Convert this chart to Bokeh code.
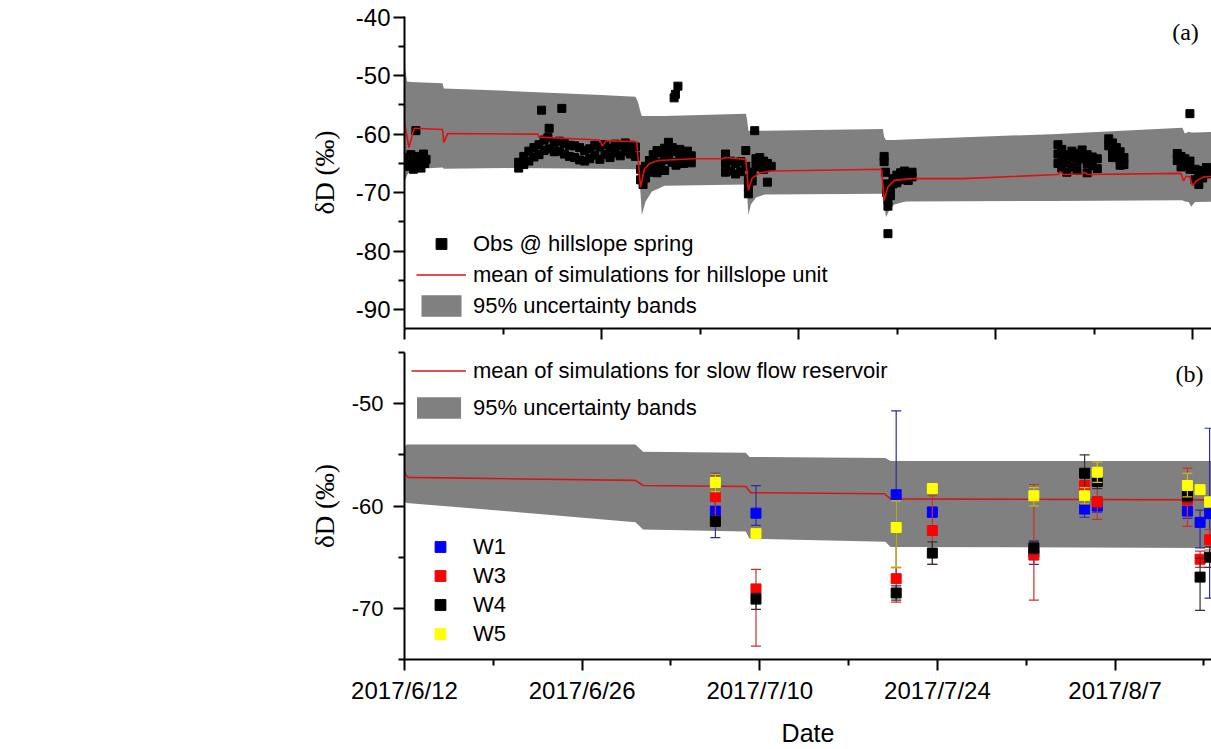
from bokeh.plotting import figure
from bokeh.models import Range1d, FixedTicker, Legend, LegendItem, Label, ColumnDataSource
from bokeh.layouts import column
from bokeh.embed import file_html
from bokeh.resources import INLINE

# ---------------- data ----------------
tick_labels = ["2017/6/12", "2017/6/26", "2017/7/10", "2017/7/24", "2017/8/7"]
tick_days = [0, 14, 28, 42, 56]
minor_tick_days = [7, 21, 35, 49, 63]
top_tick_step = 7.765  # days between ticks on the (a) panel axis
x_end_day = 63.6
y_ticks_a = [-90, -80, -70, -60, -50, -40]
y_minor_a = [-85, -75, -65, -55, -45]
y_ticks_b = [-70, -60, -50]
y_minor_b = [-75, -65, -55, -45]

# panel (a): 95% band of hillslope unit
band_a_days = [0.0, 0.2, 0.5, 3.0, 3.1, 8.0, 15.5, 18.2, 18.4, 18.6, 18.7, 19.0, 19.5, 20.5,
               26.9, 27.0, 27.1, 27.3, 27.7, 28.4, 37.7, 37.8, 37.95, 38.2, 38.6, 39.5, 51.0,
               61.3, 61.5, 61.8, 62.0, 62.3, 64.0]
band_a_hi = [-48.0, -51.0, -51.1, -51.3, -52.2, -52.6, -53.3, -53.6, -54.5, -56.2, -56.9, -56.9, -56.9, -56.9,
             -56.5, -57.5, -59.4, -59.4, -59.4, -59.4, -59.1, -60.5, -61.0, -61.0, -61.0, -60.9, -60.0,
             -58.9, -59.9, -59.6, -59.7, -59.7, -59.6]
band_a_lo = [-68.2, -67.0, -66.0, -65.7, -65.9, -65.8, -65.9, -66.0, -66.2, -70.0, -73.8, -71.5, -69.8, -68.8,
             -68.6, -70.0, -73.8, -72.0, -70.8, -70.3, -70.2, -72.0, -74.2, -73.0, -72.0, -71.5, -71.4,
             -71.3, -71.5, -71.6, -72.4, -71.6, -71.5]

# panel (a): mean of simulations
mean_a_days = [0.0, 0.35, 0.77, 3.0, 3.1, 3.4, 10.5, 10.6, 15.4, 15.6, 15.9, 18.3, 18.6, 18.9, 19.3,
               20.0, 22.8, 25.0, 25.3, 26.9, 27.1, 27.4, 28.0, 29.0, 37.6, 37.8, 38.1, 38.6, 40.0,
               44.0, 51.5, 51.7, 51.9, 53.4, 53.6, 53.8, 61.2, 61.4, 61.6, 61.9, 62.1, 62.4, 63.0, 64.0]
mean_a_vals = [-58.0, -62.3, -59.0, -59.2, -61.4, -59.9, -60.0, -60.5, -61.0, -62.0, -61.1, -61.3, -69.1, -66.0, -65.0,
               -64.5, -64.2, -64.2, -64.0, -64.3, -69.6, -67.5, -66.6, -66.3, -66.0, -71.3, -69.0, -67.9, -67.6,
               -67.6, -66.9, -66.4, -66.9, -66.8, -66.5, -66.9, -66.7, -68.0, -67.2, -67.3, -68.8, -68.0, -67.3, -67.2]

# panel (a): observations at hillslope spring
obs_days = [0.3, 0.4, 0.5, 0.6, 0.7, 0.8, 0.9, 1.0, 1.1, 1.2, 1.3, 1.4, 1.5, 1.6, 1.7,
            9.0, 9.0, 9.4, 9.4, 9.8, 9.8, 10.2, 10.2, 10.6, 10.6, 10.8, 11.0, 11.0, 11.3, 11.4, 11.4,
            11.8, 11.8, 12.2, 12.2, 12.4, 12.6, 12.6, 13.0, 13.0, 13.4, 13.4, 13.8, 13.8, 14.2, 14.2,
            14.6, 14.6, 15.0, 15.0, 15.4, 15.4, 15.8, 15.8, 16.2, 16.2, 16.6, 16.6, 17.0, 17.0, 17.4, 17.4,
            17.8, 17.8, 18.2, 18.2,
            18.6, 18.6, 18.8, 18.8, 19.0, 19.0, 19.3, 19.3, 19.6, 19.6, 19.9, 19.9, 19.9, 20.2, 20.2,
            20.5, 20.5, 20.5, 20.8, 20.8, 21.1, 21.1, 21.4, 21.4, 21.7, 21.7, 22.0, 22.0, 22.3, 22.3,
            22.6, 22.6, 21.55, 21.35, 21.25,
            25.3, 25.3, 25.3, 25.7, 25.7, 26.1, 26.1, 26.5, 26.5, 26.9, 26.9, 27.1, 27.1, 27.1, 27.4, 27.4,
            27.6, 27.7, 27.7, 28.0, 28.0, 28.3, 28.3, 28.6, 28.6, 28.9,
            37.8, 37.8, 37.9, 38.0, 38.0, 38.1, 38.1, 38.1, 38.3, 38.3, 38.5, 38.5, 38.8, 38.8, 39.1, 39.1,
            39.4, 39.4, 39.7, 39.7, 40.0, 40.0,
            51.5, 51.5, 51.5, 51.8, 51.8, 51.8, 52.2, 52.2, 52.2, 52.6, 52.6, 52.6, 53.0, 53.0, 53.0,
            53.4, 53.4, 53.8, 53.8, 53.8, 54.2, 54.2, 54.6, 54.6,
            55.5, 55.5, 55.8, 55.8, 55.8, 56.1, 56.1, 56.4, 56.4, 56.4, 56.7, 56.7,
            60.9, 60.9, 61.2, 61.2, 61.5, 61.5, 61.9, 61.9, 61.9, 62.3, 62.3, 62.6, 62.6, 62.9, 62.9, 63.2, 63.2]
obs_vals = [-64.0, -65.5, -63.5, -64.8, -66.0, -64.2, -59.4, -65.2, -63.8, -64.6, -65.8, -64.0, -63.4, -65.0, -64.3,
            -64.8, -65.8, -63.8, -65.2, -62.9, -64.6, -62.3, -63.9, -61.8, -63.5, -55.9, -61.0, -62.8, -60.6, -59.0, -62.5,
            -61.4, -63.0, -61.2, -62.9, -55.6, -61.6, -63.4, -61.9, -63.8, -62.0, -64.0, -62.3, -64.4, -62.8, -64.6,
            -62.5, -64.2, -61.9, -63.6, -62.2, -64.3, -61.8, -63.5, -62.4, -64.0, -61.7, -63.2, -62.0, -63.7, -61.5, -63.0,
            -61.9, -63.4, -62.2, -63.8,
            -66.0, -67.8, -68.6, -66.9, -67.5, -65.5, -64.5, -66.5, -63.5, -65.8, -62.8, -64.9, -66.6, -63.2, -65.4,
            -62.4, -64.4, -66.2, -61.4, -63.6, -62.3, -64.8, -63.0, -65.3, -62.6, -64.1, -63.4, -65.0, -62.9, -64.6,
            -63.7, -64.9, -51.8, -53.2, -53.8,
            -63.4, -65.0, -66.5, -64.6, -66.3, -65.0, -66.8, -64.7, -66.4, -62.8, -65.5, -69.0, -70.2, -67.6, -68.0, -66.5,
            -59.4, -65.4, -64.2, -64.0, -65.6, -64.6, -66.0, -68.2, -65.0, -65.5,
            -63.8, -64.7, -66.5, -68.5, -70.0, -72.3, -71.2, -77.0, -70.5, -69.3, -68.5, -67.6, -67.0, -68.3, -66.6, -67.8,
            -66.3, -67.4, -66.8, -67.9, -66.5, -67.3,
            -61.8, -63.4, -65.0, -62.6, -64.3, -65.8, -63.5, -64.9, -66.5, -62.9, -64.0, -65.6, -63.3, -64.7, -66.2,
            -62.7, -64.2, -63.5, -65.0, -66.6, -63.9, -65.4, -64.2, -65.9,
            -60.8, -62.0, -61.5, -62.8, -64.0, -62.3, -63.6, -63.0, -64.4, -65.3, -64.0, -65.2,
            -63.3, -64.5, -63.8, -65.6, -64.2, -65.2, -56.5, -64.6, -66.0, -66.0, -67.8, -67.0, -68.6, -66.2, -67.5, -65.7, -66.8]

# panel (b): slow flow reservoir
band_b_days = [0.0, 0.15, 9.0, 18.2, 18.8, 26.9, 27.2, 37.9, 38.3, 64.0]
band_b_hi = [-54.3, -54.0, -54.0, -54.0, -54.7, -54.8, -55.2, -55.3, -55.6, -55.6]
band_b_lo = [-59.5, -59.7, -60.6, -61.6, -62.3, -62.5, -63.2, -63.5, -64.0, -64.1]
mean_b_days = [0.0, 0.1, 0.3, 18.2, 18.8, 26.9, 27.3, 37.8, 38.3, 64.0]
mean_b_vals = [-56.6, -57.0, -57.2, -57.5, -58.0, -58.1, -58.7, -58.8, -59.3, -59.4]

# panel (b): wells -- value, lower and upper end of error bar
w_days = [24.5, 27.7, 38.75, 41.6, 49.6, 53.6, 54.6, 61.7, 62.7, 63.45]
w1_vals = [-60.5, -60.7, -58.9, -60.6, -64.5, -60.3, -60.0, -60.5, -61.6, -60.75]
w1_lo = [-63.1, -61.9, -67.0, -61.1, -65.7, -61.1, -60.6, -61.2, -64.1, -69.0]
w1_hi = [-56.8, -58.0, -50.7, -60.1, -63.4, -59.5, -59.1, -59.8, -60.4, -52.4]
w3_vals = [-59.1, -68.1, -67.1, -62.4, -64.8, -58.0, -59.6, -59.4, -65.2, -63.3]
w3_lo = [-61.0, -73.7, -69.4, -65.7, -69.2, -59.0, -61.3, -62.0, -66.0, -64.3]
w3_hi = [-57.0, -66.2, -66.0, -59.0, -57.9, -57.0, -58.0, -56.3, -64.4, -62.3]
w4_vals = [-61.5, -69.1, -68.5, -64.6, -64.1, -56.8, -57.6, -59.0, -66.95, -65.0]
w4_lo = [-62.0, -70.1, -69.2, -65.7, -64.7, -58.6, -58.3, -59.6, -70.2, -66.0]
w4_hi = [-61.0, -68.5, -67.8, -63.5, -63.5, -55.0, -56.9, -58.4, -65.1, -64.0]
w5_vals = [-57.7, -62.7, -62.1, -58.3, -59.0, -59.0, -56.7, -58.0, -58.4, -59.6]
w5_lo = [-58.6, -63.1, -66.05, -58.7, -60.0, -59.8, -57.7, -59.1, -58.8, -60.1]
w5_hi = [-56.9, -62.3, -59.5, -57.8, -58.2, -58.2, -55.7, -56.8, -58.0, -59.1]

# ---------------- styling helpers ----------------
SANS = "Liberation Sans"
SERIF = "Liberation Serif"
BAND = "#808080"


def style_axes(p, xticker, yticks, yminor, ylab_size, ylab_standoff, ytitle_standoff):
    p.xgrid.visible = False
    p.ygrid.visible = False
    p.outline_line_color = None
    for ax in (p.xaxis[0], p.yaxis[0]):
        ax.axis_line_width = 2
        ax.axis_line_color = "black"
        ax.major_tick_line_width = 2
        ax.minor_tick_line_width = 2
        ax.major_tick_line_color = "black"
        ax.minor_tick_line_color = "black"
        ax.major_tick_in = 0
        ax.major_tick_out = 11
        ax.minor_tick_in = 0
        ax.minor_tick_out = 6
        ax.major_label_text_font = SANS
        ax.major_label_text_color = "black"
    p.xaxis[0].ticker = xticker
    p.yaxis[0].ticker = FixedTicker(ticks=yticks, minor_ticks=yminor)
    p.yaxis[0].major_label_overrides = {v: str(v) for v in yticks}
    p.yaxis[0].major_label_text_font_size = ylab_size
    p.yaxis[0].major_label_standoff = ylab_standoff
    p.yaxis[0].axis_label = "δD (‰)"
    p.yaxis[0].axis_label_text_font = SERIF
    p.yaxis[0].axis_label_text_font_style = "normal"
    p.yaxis[0].axis_label_text_font_size = "27px"
    p.yaxis[0].axis_label_text_color = "black"
    p.yaxis[0].axis_label_standoff = ytitle_standoff


# ---------------- panel (a) ----------------
p1 = figure(width=1211, height=351, x_range=Range1d(0, x_end_day), y_range=Range1d(-93.2, -39.9),
            output_backend="svg", toolbar_location=None,
            min_border_left=404, min_border_right=0, min_border_top=16, min_border_bottom=22)
top_major = [i * top_tick_step for i in range(0, 9, 2)]
top_minor = [i * top_tick_step for i in range(1, 9, 2)]
style_axes(p1, FixedTicker(ticks=top_major, minor_ticks=top_minor), y_ticks_a, y_minor_a,
           "24px", 3, 13)
p1.xaxis[0].major_label_overrides = {t: " " for t in top_major}
p1.xaxis[0].major_label_text_font_size = "8px"
p1.xaxis[0].major_label_standoff = 0

r_band_a = p1.varea(x=band_a_days, y1=band_a_lo, y2=band_a_hi, fill_color=BAND)
r_obs = p1.scatter(x=obs_days, y=obs_vals, marker="square", size=8, fill_color="black", line_color="black")
r_mean_a = p1.line(x=mean_a_days, y=mean_a_vals, line_color="#e01010", line_width=1.6)

leg_a = Legend(items=[LegendItem(label="Obs @ hillslope spring", renderers=[r_obs]),
                      LegendItem(label="mean of simulations for hillslope unit", renderers=[r_mean_a]),
                      LegendItem(label="95% uncertainty bands", renderers=[r_band_a])],
               location=(12, 9), orientation="vertical", glyph_width=50, glyph_height=27,
               spacing=4, padding=0, margin=0, label_standoff=7,
               label_text_font=SANS, label_text_font_size="22px", label_text_color="black",
               border_line_color=None, background_fill_alpha=0)
p1.add_layout(leg_a)
p1.add_layout(Label(x=781, y=297, x_units="screen", y_units="screen", text="(a)",
                    text_font=SERIF, text_font_size="24px", text_align="center",
                    text_baseline="middle", text_color="black"))

# ---------------- panel (b) ----------------
p2 = figure(width=1211, height=398, x_range=Range1d(0, x_end_day), y_range=Range1d(-75, -45),
            output_backend="svg", toolbar_location=None,
            min_border_left=404, min_border_right=0, min_border_top=1, min_border_bottom=86)
style_axes(p2, FixedTicker(ticks=tick_days, minor_ticks=minor_tick_days), y_ticks_b, y_minor_b,
           "22px", 10, 9)
p2.xaxis[0].major_label_overrides = {d: lab for d, lab in zip(tick_days, tick_labels)}
p2.xaxis[0].major_label_text_font_size = "24px"
p2.xaxis[0].major_label_standoff = 6
p2.xaxis[0].axis_label = "Date"
p2.xaxis[0].axis_label_text_font = SANS
p2.xaxis[0].axis_label_text_font_style = "normal"
p2.xaxis[0].axis_label_text_font_size = "25px"
p2.xaxis[0].axis_label_text_color = "black"
p2.xaxis[0].axis_label_standoff = 12

r_band_b = p2.varea(x=band_b_days, y1=band_b_lo, y2=band_b_hi, fill_color=BAND)
r_mean_b = p2.line(x=mean_b_days, y=mean_b_vals, line_color="#d01818", line_width=1.6)

series = [("W1", w1_vals, w1_lo, w1_hi, "#0000ff", "#2b2ba8"),
          ("W3", w3_vals, w3_lo, w3_hi, "#ff0000", "#c83030"),
          ("W4", w4_vals, w4_lo, w4_hi, "#000000", "#333333"),
          ("W5", w5_vals, w5_lo, w5_hi, "#ffff00", "#d4c200")]
w_items = []
for name, vals, lo, hi, col, bar in series:
    src = ColumnDataSource(dict(x=w_days, y=vals, lo=lo, hi=hi))
    p2.segment(x0="x", y0="lo", x1="x", y1="hi", source=src, line_color=bar, line_width=1.2)
    p2.scatter(x="x", y="hi", source=src, marker="dash", size=10, line_color=bar, line_width=1.2)
    p2.scatter(x="x", y="lo", source=src, marker="dash", size=10, line_color=bar, line_width=1.2)
    r = p2.scatter(x="x", y="y", source=src, marker="square", size=10, fill_color=col, line_color=col)
    w_items.append(LegendItem(label=name, renderers=[r]))

leg_b1 = Legend(items=[LegendItem(label="mean of simulations for slow flow reservoir", renderers=[r_mean_b]),
                       LegendItem(label="95% uncertainty bands", renderers=[r_band_b])],
                location=(7, 238), orientation="vertical", glyph_width=55, glyph_height=27,
                spacing=10, padding=0, margin=0, label_standoff=7,
                label_text_font=SANS, label_text_font_size="22px", label_text_color="black",
                border_line_color=None, background_fill_alpha=0)
leg_b2 = Legend(items=w_items, location=(11, 12), orientation="vertical", glyph_width=50,
                glyph_height=27, spacing=2, padding=0, margin=0, label_standoff=8,
                label_text_font=SANS, label_text_font_size="22px", label_text_color="black",
                border_line_color=None, background_fill_alpha=0)
p2.add_layout(leg_b1)
p2.add_layout(leg_b2)
p2.add_layout(Label(x=785, y=286, x_units="screen", y_units="screen", text="(b)",
                    text_font=SERIF, text_font_size="24px", text_align="center",
                    text_baseline="middle", text_color="black"))

layout = column(p1, p2, spacing=0)
open("out.html", "w").write(file_html(layout, INLINE))
